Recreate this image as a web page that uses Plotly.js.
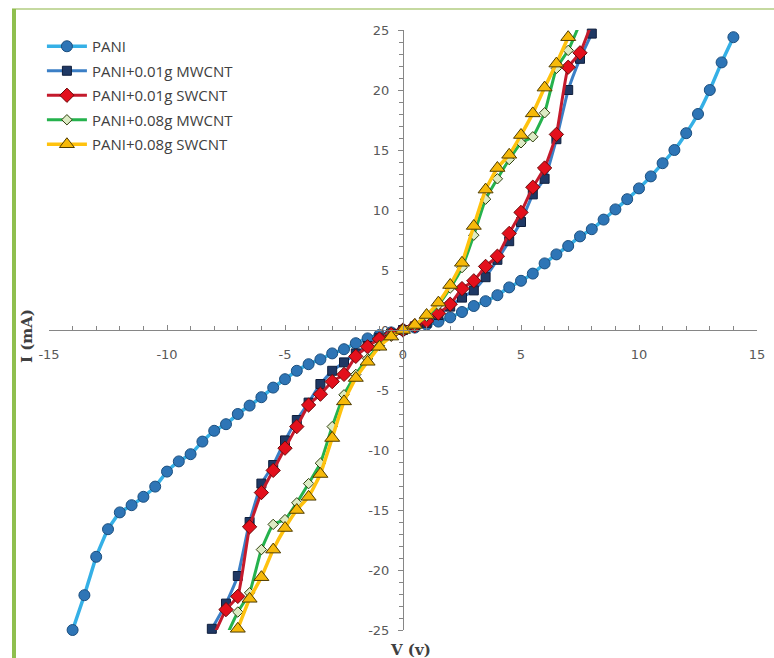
<!DOCTYPE html>
<html>
<head>
<meta charset="utf-8">
<script src="https://cdn.plot.ly/plotly-3.0.1.min.js"></script>
<style>
  html, body { margin: 0; padding: 0; background: #ffffff; }
  #wrap { position: relative; width: 774px; height: 658px; overflow: hidden; }
  #chart { position: absolute; left: 0; top: 0; width: 774px; height: 658px; }
  #bl { position: absolute; left: 12px; top: 9px; width: 4px; height: 660px; background: #8fbf4e; }
  #bt { position: absolute; left: 12px; top: 8px; width: 770px; height: 2px; background: #c5d9a0; }
</style>
</head>
<body>
<div id="wrap">
  <div id="chart"></div>
  <div id="bt"></div>
  <div id="bl"></div>
</div>
<script>
// ---- data (V in volts, I in mA) ----
const pani_v = [-14,-13.5,-13,-12.5,-12,-11.5,-11,-10.5,-10,-9.5,-9,-8.5,-8,-7.5,-7,-6.5,-6,-5.5,-5,-4.5,-4,-3.5,-3,-2.5,-2,-1.5,-1,-0.5,0,
                0.5,1,1.5,2,2.5,3,3.5,4,4.5,5,5.5,6,6.5,7,7.5,8,8.5,9,9.5,10,10.5,11,11.5,12,12.5,13,13.5,14];
const pani_i = [-25.0,-22.1,-18.9,-16.6,-15.2,-14.6,-13.9,-13.05,-11.8,-10.95,-10.35,-9.3,-8.4,-7.85,-7.0,-6.3,-5.6,-4.8,-4.1,-3.4,-2.85,-2.45,-1.95,-1.6,-1.1,-0.7,-0.42,-0.2,0,
                0.2,0.45,0.7,1.05,1.5,2.0,2.4,2.9,3.55,4.1,4.7,5.55,6.3,7.0,7.8,8.4,9.2,10.05,10.9,11.8,12.8,13.9,15.0,16.4,18.0,20.0,22.3,24.4];

const mw01_v = [-8.1,-7.5,-7,-6.5,-6,-5.5,-5,-4.5,-4,-3.5,-3,-2.5,-2,-1.5,-1,-0.5,0,
                0.5,1,1.5,2,2.5,3,3.5,4,4.5,5,5.5,6,6.5,7,7.5,8];
const mw01_i = [-24.9,-22.8,-20.5,-16.0,-12.8,-11.25,-9.2,-7.5,-6.05,-4.5,-3.4,-2.7,-1.95,-1.33,-0.65,-0.3,0,
                0.3,0.6,1.25,1.95,2.7,3.3,4.4,5.85,7.4,9.0,11.3,12.6,15.9,20.0,22.6,24.7];

const sw01_v = [-8.05,-7.5,-7,-6.5,-6,-5.5,-5,-4.5,-4,-3.5,-3,-2.5,-2,-1.5,-1,-0.5,0,
                0.5,1,1.5,2,2.5,3,3.5,4,4.5,5,5.5,6,6.5,7,7.5,8.0];
const sw01_i = [-25.6,-23.3,-22.2,-16.4,-13.55,-11.7,-9.85,-8.05,-6.25,-5.35,-4.3,-3.7,-2.2,-1.4,-0.75,-0.35,0,
                0.35,0.75,1.4,2.15,3.45,4.1,5.3,6.15,8.05,9.8,11.9,13.5,16.3,21.9,23.1,25.6];

const mw08_v = [-7.55,-7,-6.5,-6,-5.5,-5,-4.5,-4,-3.5,-3,-2.5,-2,-1.5,-1,-0.5,0,
                0.5,1,1.5,2,2.5,3,3.5,4,4.5,5,5.5,6,6.5,7,7.55];
const mw08_i = [-25.8,-23.5,-21.9,-18.3,-16.2,-15.8,-14.4,-12.8,-11.1,-8.05,-5.4,-3.7,-2.4,-1.3,-0.5,0,
                0.4,1.15,2.1,3.5,5.2,7.9,10.9,12.6,14.2,15.6,16.1,18.1,21.8,23.3,25.8];

const sw08_v = [-7,-6.5,-6,-5.5,-5,-4.5,-4,-3.5,-3,-2.5,-2,-1.5,-1,-0.5,0,
                0.5,1,1.5,2,2.5,3,3.5,4,4.5,5,5.5,6,6.5,7];
const sw08_i = [-24.9,-22.4,-20.6,-18.3,-16.5,-15.0,-13.9,-12.0,-9.0,-5.95,-4.0,-2.65,-1.4,-0.55,0,
                0.42,1.25,2.28,3.75,5.6,8.67,11.7,13.5,14.6,16.25,18.05,20.2,22.2,24.4];

const names = ['PANI','PANI+0.01g MWCNT','PANI+0.01g SWCNT','PANI+0.08g MWCNT','PANI+0.08g SWCNT'];
const xTickVals = [-15,-10,-5,0,5,10,15];
const yTickVals = [-25,-20,-15,-10,-5,0,5,10,15,20,25];

const styles = [
  {line:'#35b0e6', w:3.5, sym:'circle', size:11, fill:'#2e75b6', edge:'#1c4f7f', clip:false},
  {line:'#3b7fc6', w:3, sym:'square', size:9, fill:'#1f3864', edge:'#0f1e3c', clip:false},
  {line:'#c41a2c', w:3, sym:'diamond', size:11, fill:'#e3101c', edge:'#6a0a0a', clip:true},
  {line:'#25b24d', w:3, sym:'diamond', size:8, fill:'#dcebc4', edge:'#2f3f0c', clip:true},
  {line:'#ffc20e', w:3.5, sym:'triangle-up', size:13, fill:'#f6b90a', edge:'#4f3c00', clip:false}
];
const xs = [pani_v, mw01_v, sw01_v, mw08_v, sw08_v];
const ys = [pani_i, mw01_i, sw01_i, mw08_i, sw08_i];

const traces = xs.map((x,k)=>({
  type:'scatter', mode:'lines+markers', x:x, y:ys[k], name:names[k],
  legendgroup:'g'+k,
  line:{color:styles[k].line, width:styles[k].w, shape:'spline', smoothing:0.4},
  marker:{symbol:styles[k].sym, size:styles[k].size, color:styles[k].fill,
          line:{color:styles[k].edge, width:1}},
  cliponaxis:styles[k].clip
}));

const tickFont = {family:'DejaVu Sans, Verdana, sans-serif', size:13, color:'#595959'};
const titleFont = {family:'DejaVu Serif, Liberation Serif, serif', size:15, color:'#404040', weight:'bold'};

const layout = {
  width:774, height:658,
  margin:{l:49, r:17, t:30, b:28},
  paper_bgcolor:'rgba(0,0,0,0)', plot_bgcolor:'rgba(0,0,0,0)',
  showlegend:true,
  legend:{x:-0.010, y:1.0, xanchor:'left', yanchor:'top',
          font:{family:'Open Sans, Noto Sans, sans-serif', size:15, color:'#404040'},
          bgcolor:'rgba(0,0,0,0)', traceorder:'grouped', tracegroupgap:2, itemwidth:40},
  xaxis:{range:[-15,15], anchor:'free', position:0.5, showgrid:false, zeroline:false,
         showline:true, linecolor:'#868686', linewidth:1,
         tickmode:'array', tickvals:xTickVals, ticktext:xTickVals.map(String),
         ticks:'inside', ticklen:5, tickcolor:'#868686', tickfont:tickFont, ticklabelstandoff:12,
         minor:{dtick:1, ticks:'inside', ticklen:4, tickcolor:'#868686', showgrid:false}},
  yaxis:{range:[-25,25], anchor:'free', position:0.5, showgrid:false, zeroline:false,
         showline:true, linecolor:'#868686', linewidth:1,
         tickmode:'array', tickvals:yTickVals, ticktext:yTickVals.map(String),
         ticks:'outside', ticklen:5, tickcolor:'#868686', tickfont:tickFont, ticklabelstandoff:6,
         minor:{dtick:1, ticks:'outside', ticklen:4, tickcolor:'#868686', showgrid:false}},
  annotations:[
    {text:'V (v)', xref:'paper', yref:'paper', x:(410-49)/708, y:(630-650)/600,
     xanchor:'center', yanchor:'middle', showarrow:false, font:titleFont},
    {text:'I (mA)', xref:'paper', yref:'paper', x:(27-49)/708, y:(630-336)/600,
     xanchor:'center', yanchor:'middle', showarrow:false, textangle:-90, font:titleFont}
  ]
};

Plotly.newPlot('chart', traces, layout, {displayModeBar:false, staticPlot:true});
</script>
</body>
</html>
